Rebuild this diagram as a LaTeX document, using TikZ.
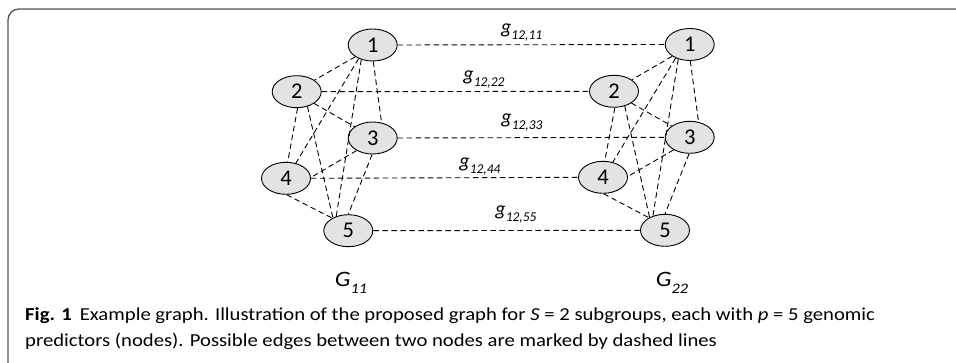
\documentclass[tikz,border=0pt]{standalone}
\usepackage{fontspec}
\setmainfont{Carlito}
\newfontfamily\capfont[FakeStretch=1.13]{Carlito}
\usetikzlibrary{shapes.geometric}
\tikzset{
  vtx/.style={ellipse, draw=black, line width=0.9pt, fill=gray!22,
    minimum width=49pt, minimum height=32pt, inner sep=0pt,
    font=\fontsize{22.5}{22.5}\selectfont},
  dashedge/.style={draw=black, line width=0.9pt, dash pattern=on 5.5pt off 3.5pt},
  wlbl/.style={inner sep=0pt, anchor=center},
  glbl/.style={inner sep=0pt, anchor=base},
  captxt/.style={inner sep=0pt, anchor=base west, font=\capfont\fontsize{18.3}{18.3}\selectfont},
}
\newcommand{\wt}[1]{{\itshape\fontsize{20}{20}\selectfont g\raisebox{-6pt}{\fontsize{13.5}{13.5}\selectfont #1}}}
\newcommand{\gname}[1]{{\capfont\itshape\fontsize{22}{22}\selectfont G\raisebox{-7pt}{\fontsize{14.5}{14.5}\selectfont #1}}}
\begin{document}
\begin{tikzpicture}[x=1pt, y=-1pt]
  \useasboundingbox (0,0) rectangle (956,363);
  % rounded frame, open at the bottom and right
  \begin{scope}
    \clip (0,0) rectangle (956,363);
    \draw[line width=1.3pt, draw=gray!65!black, rounded corners=11pt]
      (8,9) rectangle (1000,380);
  \end{scope}

  % first subgroup graph
  \node[vtx] (a1) at (372.7,45) {1};
  \node[vtx] (a2) at (296.7,91.7) {2};
  \node[vtx] (a3) at (372.7,138) {3};
  \node[vtx] (a4) at (286,178.3) {4};
  \node[vtx] (a5) at (348.3,230.7) {5};
  % second subgroup graph
  \node[vtx] (b1) at (689.7,44.5) {1};
  \node[vtx] (b2) at (614,91.3) {2};
  \node[vtx] (b3) at (689.7,137.3) {3};
  \node[vtx] (b4) at (603,177.3) {4};
  \node[vtx] (b5) at (665,230.3) {5};

  % all possible edges within each subgroup
  \foreach \s in {a,b}{
    \draw[dashedge] (\s1.214) -- (\s2.33);
    \draw[dashedge] (\s1.224) -- (\s4.57);
    \draw[dashedge] (\s1.232) -- (\s5.130);
    \draw[dashedge] (\s1.272) -- (\s3.60);
    \draw[dashedge] (\s2.326) -- (\s3.148);
    \draw[dashedge] (\s2.273) -- (\s4.84);
    \draw[dashedge] (\s2.306) -- (\s5.140);
    \draw[dashedge] (\s3.218) -- (\s4.2);
    \draw[dashedge] (\s3.268) -- (\s5.90);
    \draw[dashedge] (\s4.272) -- (\s5.142);
  }
  % edges between the same predictor in both subgroups
  \foreach \i in {1,...,5}{
    \draw[dashedge] (a\i.east) -- (b\i.west);
  }

  \node[wlbl] (w1) at (521.7,33) {\wt{12,11}};
  \node[wlbl] (w2) at (484,80) {\wt{12,22}};
  \node[wlbl] (w3) at (522,123) {\wt{12,33}};
  \node[wlbl] (w4) at (480,167) {\wt{12,44}};
  \node[wlbl] (w5) at (516,215) {\wt{12,55}};

  \node[glbl] (g1) at (351,287) {\gname{11}};
  \node[glbl] (g2) at (672,287) {\gname{22}};

  \node[captxt] (c1) at (25,320.7) {\textbf{Fig. 1}\hspace{8pt}Example graph. Illustration of the proposed graph for \textit{S} = 2 subgroups, each with \textit{p} = 5 genomic};
  \node[captxt] (c2) at (25,346.7) {predictors (nodes). Possible edges between two nodes are marked by dashed lines};
\end{tikzpicture}
\end{document}
